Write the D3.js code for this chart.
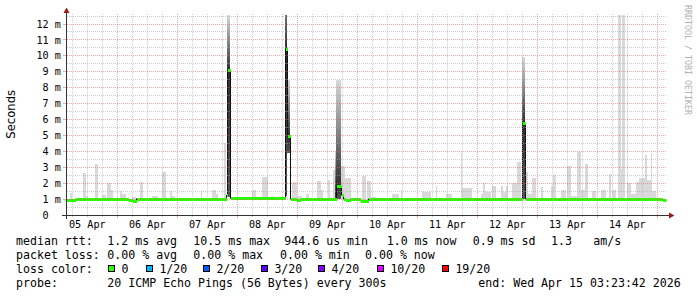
<!DOCTYPE html>
<html><head><meta charset="utf-8">
<script src="https://cdn.jsdelivr.net/npm/d3@7/dist/d3.min.js"></script>
<style>html,body{margin:0;padding:0;background:#fff;}svg{display:block;}text{white-space:pre;}</style>
</head><body><svg id="c" width="697" height="297"></svg>
<script>
// ---------------- data ----------------
const startTime = "2026-04-05 03:23:42";
const endTime   = "2026-04-15 03:23:42";
const yMax = 12.63;
const yTicks = [0,1,2,3,4,5,6,7,8,9,10,11,12];
const yMinorTicks = [0.5,1.5,2.5,3.5,4.5,5.5,6.5,7.5,8.5,9.5,10.5,11.5,12.5];
const dayLabels = ["2026-04-05","2026-04-06","2026-04-07","2026-04-08","2026-04-09","2026-04-10","2026-04-11","2026-04-12","2026-04-13","2026-04-14"];

const medianTimes = ["2026-04-05 03:24","2026-04-05 07:00","2026-04-05 11:23","2026-04-06 04:11","2026-04-06 05:47","2026-04-06 07:23","2026-04-06 23:23","2026-04-07 19:23","2026-04-07 19:54","2026-04-07 21:11","2026-04-08 19:11","2026-04-08 19:59","2026-04-08 21:11","2026-04-08 23:23","2026-04-09 00:59","2026-04-09 15:40","2026-04-09 17:23","2026-04-09 18:11","2026-04-09 18:59","2026-04-09 20:59","2026-04-10 00:59","2026-04-10 04:11","2026-04-12 18:04","2026-04-12 19:16","2026-04-15 01:47"];
const medianValues = [0.97,1.0,0.98,0.95,0.9,1.02,0.98,1.25,9.1,1.04,10.4,4.95,1.0,0.93,1.0,1.84,1.25,1.0,0.95,1.0,0.88,1.0,5.8,1.0,0.93];

const smokeMin = 0.92;
// [start, end, highest ping]
const smokeBars = [
["2026-04-05 05:16","2026-04-05 06:04",1.4],["2026-04-05 10:11","2026-04-05 11:23",2.65],["2026-04-05 11:23","2026-04-05 12:28",1.2],
["2026-04-05 15:16","2026-04-05 16:11",3.2],["2026-04-05 17:47","2026-04-05 19:23",1.25],["2026-04-05 20:04","2026-04-05 21:23",2.0],
["2026-04-05 21:23","2026-04-05 22:11",1.6],["2026-04-06 00:59","2026-04-06 02:04",1.5],["2026-04-06 02:04","2026-04-06 03:23",1.3],
["2026-04-06 05:47","2026-04-06 07:23",1.15],["2026-04-06 09:16","2026-04-06 10:11",2.1],["2026-04-06 14:04","2026-04-06 16:11",1.2],
["2026-04-06 17:47","2026-04-06 19:23",2.7],["2026-04-06 20:59","2026-04-06 22:04",1.5],["2026-04-06 22:04","2026-04-06 23:06",1.2],
["2026-04-07 09:23","2026-04-07 10:04",1.6],["2026-04-07 14:04","2026-04-07 15:23",1.6],["2026-04-07 15:23","2026-04-07 16:11",1.35],
["2026-04-07 18:47","2026-04-07 19:35",4.5],["2026-04-08 06:04","2026-04-08 07:23",1.57],["2026-04-08 10:04","2026-04-08 12:11",2.4],
["2026-04-08 13:23","2026-04-08 14:11",1.2],["2026-04-08 21:54","2026-04-09 00:04",2.05],["2026-04-09 00:04","2026-04-09 02:04",1.2],
["2026-04-09 03:23","2026-04-09 04:42",1.3],["2026-04-09 08:04","2026-04-09 09:23",2.13],["2026-04-09 09:23","2026-04-09 10:18",1.57],
["2026-04-09 12:18","2026-04-09 13:16",2.2],["2026-04-09 14:18","2026-04-09 15:40",2.8],["2026-04-09 17:40","2026-04-09 18:59",3.1],
["2026-04-09 18:59","2026-04-09 21:23",2.35],["2026-04-10 02:04","2026-04-10 03:23",2.47],["2026-04-10 04:04","2026-04-10 05:23",2.13],
["2026-04-10 05:47","2026-04-10 07:23",1.1],["2026-04-10 14:04","2026-04-10 16:42",1.35],["2026-04-10 17:23","2026-04-10 18:04",1.57],
["2026-04-11 02:04","2026-04-11 05:23",1.45],["2026-04-11 07:23","2026-04-11 08:04",1.8],["2026-04-11 11:23","2026-04-11 14:04",1.3],
["2026-04-11 17:23","2026-04-11 18:04",3.9],["2026-04-11 18:04","2026-04-11 22:04",1.7],["2026-04-12 01:23","2026-04-12 02:18",1.3],
["2026-04-12 02:18","2026-04-12 03:06",2.0],["2026-04-12 03:06","2026-04-12 05:23",1.45],["2026-04-12 06:04","2026-04-12 07:23",1.84],
["2026-04-12 09:23","2026-04-12 10:18",1.84],["2026-04-12 10:18","2026-04-12 11:23",1.45],["2026-04-12 11:23","2026-04-12 12:28",1.8],
["2026-04-12 14:04","2026-04-12 16:04",2.0],["2026-04-12 16:04","2026-04-12 17:23",3.35],["2026-04-12 19:23","2026-04-12 20:18",2.7],
["2026-04-12 20:18","2026-04-12 22:04",1.35],["2026-04-12 22:04","2026-04-12 23:23",2.3],["2026-04-13 01:23","2026-04-13 02:18",1.75],
["2026-04-13 05:23","2026-04-13 06:18",1.8],["2026-04-13 06:18","2026-04-13 07:23",2.5],["2026-04-13 09:23","2026-04-13 11:23",1.6],
["2026-04-13 12:04","2026-04-13 13:23",3.07],["2026-04-13 13:23","2026-04-13 16:04",1.2],["2026-04-13 16:04","2026-04-13 17:23",3.98],
["2026-04-13 17:23","2026-04-13 19:16",1.57],["2026-04-13 19:16","2026-04-13 20:11",3.2],["2026-04-13 22:04","2026-04-13 23:23",1.5],
["2026-04-14 01:23","2026-04-14 03:23",1.6],["2026-04-14 04:42","2026-04-14 05:40",2.57],["2026-04-14 06:04","2026-04-14 07:23",1.55],
["2026-04-14 08:18","2026-04-14 09:23",12.57],["2026-04-14 09:23","2026-04-14 10:04",2.9],["2026-04-14 10:04","2026-04-14 11:16",12.57],
["2026-04-14 12:04","2026-04-14 13:23",2.0],["2026-04-14 13:23","2026-04-14 15:23",1.35],["2026-04-14 15:23","2026-04-14 16:42",2.05],
["2026-04-14 16:42","2026-04-14 19:06",2.3],["2026-04-14 19:06","2026-04-14 20:04",3.77],["2026-04-14 20:04","2026-04-14 21:23",2.2],
["2026-04-14 21:23","2026-04-14 22:04",3.9],["2026-04-14 22:04","2026-04-14 23:23",1.5]
];
// [start, end, lowest ping, median, highest ping]
const spikeSmoke = [
["2026-04-07 19:54","2026-04-07 21:11",1.1,9.1,12.57],
["2026-04-08 19:11","2026-04-08 19:59",1.2,10.4,16],
["2026-04-08 19:59","2026-04-08 21:11",3.9,4.95,8.5],
["2026-04-09 14:59","2026-04-09 15:40",1.0,1.3,4.0],
["2026-04-09 15:40","2026-04-09 17:23",1.0,1.84,8.5],
["2026-04-12 18:04","2026-04-12 19:16",1.0,5.8,9.9]
];

const yTitle = "Seconds";
const watermark = "RRDTOOL / TOBI OETIKER";
const rttLabel = "median rtt:";
const rttStats = ["1.2 ms avg","10.5 ms max","944.6 us min","1.0 ms now","0.9 ms sd","1.3","am/s"];
const lossLabel = "packet loss:";
const lossStats = ["0.00 % avg","0.00 % max","0.00 % min","0.00 % now"];
const lossColorLabel = "loss color:";
const lossLevels = ["0","1/20","2/20","3/20","4/20","10/20","19/20"];
const lossColors = ["#26ff00","#00b8ff","#0059ff","#5e00ff","#7e00ff","#dd00ff","#ff0000"];
const probeLabel = "probe:";
const probeText = "20 ICMP Echo Pings (56 Bytes) every 300s";
const endText = "end: Wed Apr 15 03:23:42 2026";

// ---------------- drawing ----------------
const svg = d3.select("#c");
const p1 = d3.utcParse("%Y-%m-%d %H:%M:%S"), p2 = d3.utcParse("%Y-%m-%d %H:%M"), p3 = d3.utcParse("%Y-%m-%d");
const parse = s => p1(s) || p2(s) || p3(s);
const t0 = parse(startTime), t1 = parse(endTime);
const x = d3.scaleUtc().domain([t0, t1]).range([65.8, 665.8]);
const y = d3.scaleLinear().domain([0, yMax]).range([215, 14]);
const px = v => Math.floor(v) + 0.5;
const mono = "'DejaVu Sans Mono', monospace";

svg.append("rect").attr("width", 697).attr("height", 297).attr("fill", "#fff");
const defs = svg.append("defs");
defs.append("clipPath").attr("id", "plot").append("rect")
  .attr("x", 66).attr("y", y(12.57)).attr("width", 600.5).attr("height", 215 - y(12.57));

const g = svg.append("g").attr("clip-path", "url(#plot)");

// light smoke
g.selectAll("rect.smoke").data(smokeBars).join("rect").attr("class", "smoke")
  .attr("x", d => Math.round(x(parse(d[0]))))
  .attr("width", d => Math.max(1, Math.round(x(parse(d[1]))) - Math.round(x(parse(d[0])))))
  .attr("y", d => Math.round(y(d[2])))
  .attr("height", d => Math.round(y(smokeMin)) - Math.round(y(d[2])))
  .attr("fill", "#d9d9d9").attr("shape-rendering", "crispEdges");

// dense smoke with gradient
spikeSmoke.forEach((d, i) => {
  const ya = y(d[2]), ym = y(d[3]), yb = y(d[4]);
  const gr = defs.append("linearGradient").attr("id", "sg" + i)
    .attr("gradientUnits", "userSpaceOnUse").attr("x1", 0).attr("x2", 0).attr("y1", ya).attr("y2", yb);
  gr.append("stop").attr("offset", 0).attr("stop-color", "#555");
  gr.append("stop").attr("offset", (ya - ym) / (ya - yb)).attr("stop-color", "#2e2e2e");
  gr.append("stop").attr("offset", 1).attr("stop-color", "#d8d8d8");
  const xa = Math.round(x(parse(d[0]))), xb = Math.round(x(parse(d[1])));
  g.append("rect").attr("x", xa).attr("width", Math.max(1, xb - xa))
    .attr("y", Math.round(yb)).attr("height", Math.round(ya) - Math.round(yb))
    .attr("fill", "url(#sg" + i + ")").attr("shape-rendering", "crispEdges");
});

// median
const med = medianTimes.map((t, i) => ({t: parse(t), v: medianValues[i]}));
med.push({t: t1, v: medianValues[medianValues.length - 1]});
g.append("path").datum(med)
  .attr("d", d3.line().curve(d3.curveStepAfter).x(d => Math.round(x(d.t)) + 0.5).y(d => y(d.v)))
  .attr("fill", "none").attr("stroke", "#111").attr("stroke-width", 1);
g.append("path").datum(med)
  .attr("d", d3.area().curve(d3.curveStepAfter).x(d => Math.round(x(d.t)) + 1)
    .y0(d => Math.round(y(d.v)) + 2).y1(d => Math.round(y(d.v)) - 1))
  .attr("fill", lossColors[0]).attr("shape-rendering", "crispEdges");

// grid (drawn on top, as rrdtool does)
const minorC = "rgba(170,170,170,0.6)", majorC = "rgba(225,100,100,0.55)";
const grid = svg.append("g").attr("shape-rendering", "crispEdges");
const hours6 = d3.utcHour.every(6).range(t0, t1);
hours6.forEach(t => {
  const major = t.getUTCHours() === 0;
  const xx = px(x(t));
  const c = major ? majorC : minorC;
  grid.append("line").attr("x1", xx).attr("x2", xx).attr("y1", 14).attr("y2", 215)
    .attr("stroke", c).attr("stroke-dasharray", "1,1");
  grid.append("line").attr("x1", xx).attr("x2", xx).attr("y1", 215).attr("y2", major ? 218 : 217)
    .attr("stroke", c);
});
yMinorTicks.forEach(v => {
  const yy = px(y(v));
  grid.append("line").attr("x1", 67).attr("x2", 666).attr("y1", yy).attr("y2", yy)
    .attr("stroke", minorC).attr("stroke-dasharray", "1,1");
});
yTicks.filter(v => v > 0).forEach(v => {
  const yy = px(y(v));
  grid.append("line").attr("x1", 67).attr("x2", 666).attr("y1", yy).attr("y2", yy)
    .attr("stroke", majorC).attr("stroke-dasharray", "1,1");
  grid.append("line").attr("x1", 63).attr("x2", 66).attr("y1", yy).attr("y2", yy).attr("stroke", majorC);
});

// axes
const axisC = "#333", arrowC = "#9b1b1b";
svg.append("line").attr("x1", 62).attr("x2", 670).attr("y1", 215.5).attr("y2", 215.5)
  .attr("stroke", axisC).attr("shape-rendering", "crispEdges");
svg.append("line").attr("x1", 66.5).attr("x2", 66.5).attr("y1", 219).attr("y2", 11)
  .attr("stroke", axisC).attr("shape-rendering", "crispEdges");
svg.append("path").attr("d", "M669,212.5L674.5,215.5L669,218.5Z").attr("fill", arrowC);
svg.append("path").attr("d", "M63.5,13L66.5,7.5L69.5,13Z").attr("fill", arrowC);

// y tick labels
svg.selectAll("text.yl").data(yTicks).join("text").attr("class", "yl")
  .attr("x", 60.8).attr("y", d => y(d) + 3.6).attr("text-anchor", "end")
  .attr("font-family", mono).attr("font-size", "10.15px").attr("fill", "#000")
  .text(d => (d === 0 ? " 0  " : (d < 10 ? " " : "") + d + " m"));

// x tick labels (centred at noon)
const fmt = d3.utcFormat("%d %b");
svg.selectAll("text.xl").data(dayLabels).join("text").attr("class", "xl")
  .attr("x", d => x(d3.utcHour.offset(parse(d), 12)))
  .attr("y", 228.3).attr("text-anchor", "middle")
  .attr("font-family", mono).attr("font-size", "10.15px").attr("fill", "#000")
  .text(d => fmt(parse(d)));

// y title
svg.append("text").attr("transform", "translate(15,114.3) rotate(-90)")
  .attr("text-anchor", "middle").attr("font-family", "'DejaVu Sans', sans-serif")
  .attr("font-size", "11.6px").attr("fill", "#000").text(yTitle);

// watermark
svg.append("text").attr("transform", "translate(684.5,5) rotate(90)")
  .attr("font-family", mono).attr("font-size", "8.3px").attr("fill", "#b0b0b0").text(watermark);

// legend
const leg = svg.append("g").attr("font-family", mono).attr("font-size", "11.6px").attr("fill", "#000");
const put = (s, xx, yy) => leg.append("text").attr("x", xx).attr("y", yy).text(s);
const rowY = [244.5, 258.5, 272.5, 286.5];
put(rttLabel, 16, rowY[0]);
[107.3, 193.3, 284.3, 386.7, 472.7, 551, 593.3].forEach((xx, i) => put(rttStats[i], xx, rowY[0]));
put(lossLabel, 16, rowY[1]);
[107.3, 193.3, 280, 365].forEach((xx, i) => put(lossStats[i], xx, rowY[1]));
put(lossColorLabel, 16, rowY[2]);
const swX = [108, 146, 203, 261, 318, 377, 442];
lossLevels.forEach((s, i) => {
  leg.append("rect").attr("x", swX[i] + 0.5).attr("y", 265.5).attr("width", 6).attr("height", 6)
    .attr("fill", lossColors[i]).attr("stroke", "#000").attr("stroke-width", 1).attr("shape-rendering", "crispEdges");
  put(s, swX[i] + 13.4, rowY[2]);
});
put(probeLabel, 16, rowY[3]);
put(probeText, 107.3, rowY[3]);
put(endText, 478.3, rowY[3]);
</script></body></html>
